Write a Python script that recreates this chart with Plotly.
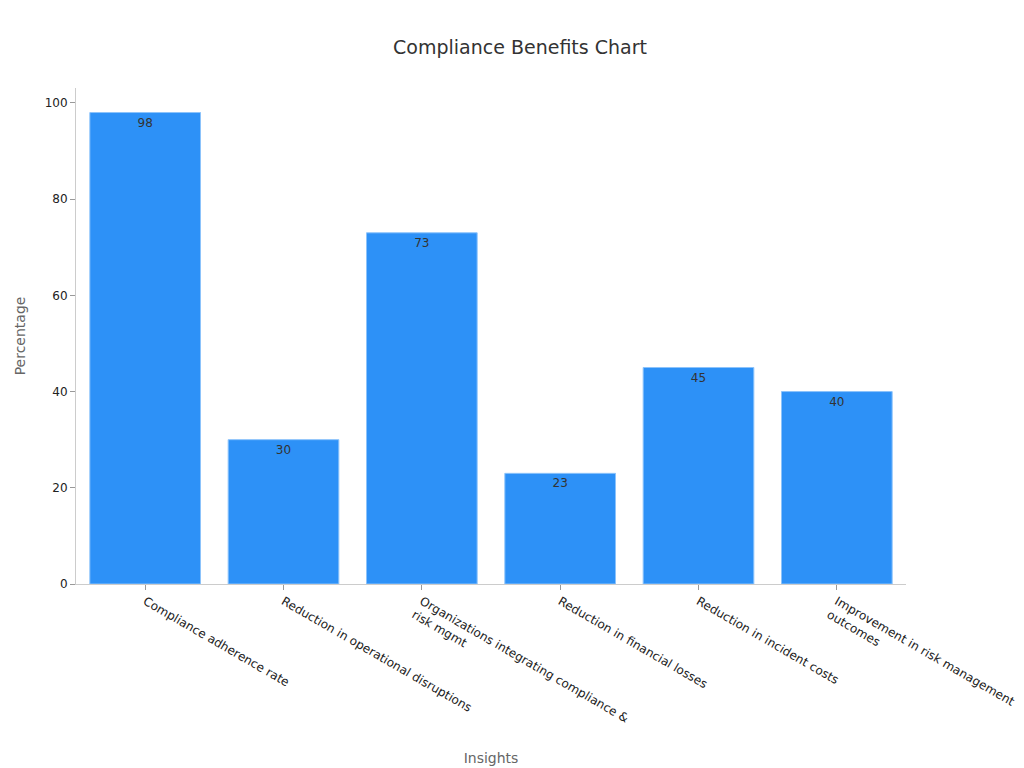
import plotly.graph_objects as go

categories = ["Compliance adherence rate", "Reduction in operational disruptions",
              "Organizations integrating compliance &<br>risk mgmt", "Reduction in financial losses",
              "Reduction in incident costs", "Improvement in risk management<br>outcomes"]
values = [98, 30, 73, 23, 45, 40]

fig = go.Figure(go.Bar(
    x=categories, y=values, text=values, textposition="inside", insidetextanchor="end",
    textfont=dict(color="#333333", size=12),
    marker=dict(color="#2d91f7", line=dict(color="#8cc3fb", width=1)),
    width=0.8,
))
fig.update_layout(
    width=1024, height=768, plot_bgcolor="white", paper_bgcolor="white",
    font=dict(family="DejaVu Sans", color="#333333", size=12),
    title=dict(text="Compliance Benefits Chart", x=0.5, xanchor="center", y=0.957,
               font=dict(size=19, color="#333333")),
    margin=dict(l=68, r=126, t=80, b=192),
    showlegend=False,
    xaxis=dict(title=dict(text="Insights", font=dict(size=14, color="#666666")), tickangle=30,
               showline=True, linecolor="#cccccc", ticks="outside", tickcolor="#999999", ticklen=5,
               tickfont=dict(size=12, color="#222222")),
    yaxis=dict(title=dict(text="Percentage", font=dict(size=14, color="#666666")), range=[0, 103.1],
               showline=True, linecolor="#cccccc", ticks="outside", tickcolor="#999999", ticklen=5,
               showgrid=False, zeroline=False, dtick=20, tickfont=dict(size=12, color="#222222")),
)
fig.write_html("out.html")
